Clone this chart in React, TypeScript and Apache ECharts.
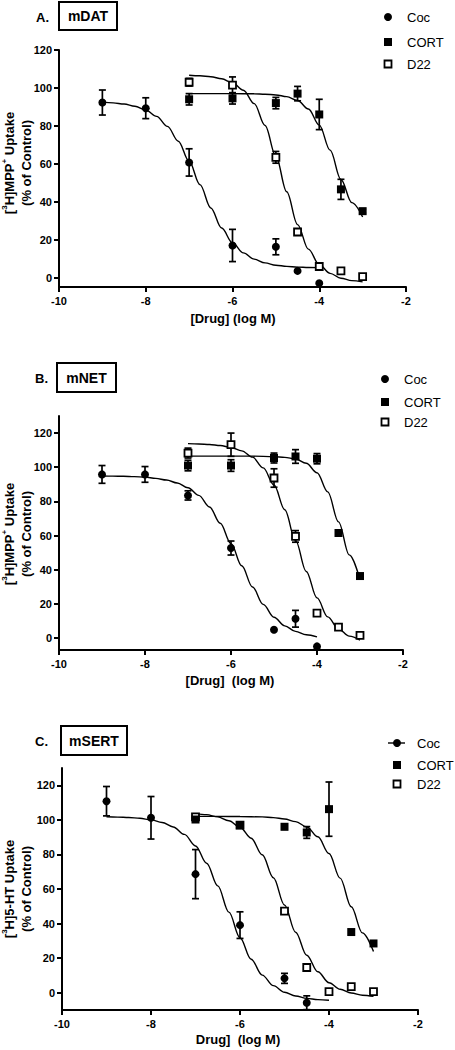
import React, { useEffect, useRef } from "react";
import * as echarts from "echarts";

const FONT = '"Liberation Sans", Arial, Helvetica, sans-serif';

// ---- axis ticks ----
const xTicks = [-10, -8, -6, -4, -2];
const yTicks = [0, 20, 40, 60, 80, 100, 120];

// ---- shared measurement x positions (log M) ----
const cocX9 = [-9, -8, -7, -6, -5, -4.5, -4];
const drugX7 = [-7, -6, -5, -4.5, -4, -3.5, -3];
const cocXC = [-9, -8, -7, -6, -5, -4.5];

// ---- fitted-curve sample x positions ----
const curveX9 = [-9, -8.75, -8.5, -8.25, -8, -7.75, -7.5, -7.25, -7, -6.75, -6.5, -6.25, -6, -5.75, -5.5, -5.25, -5, -4.75, -4.5, -4.25, -4];
const curveX7 = [-7, -6.75, -6.5, -6.25, -6, -5.75, -5.5, -5.25, -5, -4.75, -4.5, -4.25, -4, -3.75, -3.5, -3.25, -3];
const cortCurveXA = [-7, -6.5, -6, -5.5, -5.25, -5, -4.75, -4.5, -4.25, -4, -3.75, -3.5, -3.25, -3];
const cortCurveXB = [-7, -6.5, -6, -5.5, -5, -4.75, -4.5, -4.25, -4, -3.75, -3.5, -3.25, -3];

// ---- Panel A: mDAT ----
const aCocY = [92.3, 89.3, 60.7, 16.9, 16.2, 3.5, -3];
const aCocErr = [6.6, 5.5, 7.2, 8.5, 4.2, 0, 0];
const aCortY = [94, 94.5, 92, 97, 86, 46.5, 35];
const aCortErr = [3, 3, 3, 3.8, 8, 5.3, 1];
const aD22Y = [103, 101.5, 63.4, 24, 5.8, 3.5, 0.5];
const aD22Err = [2, 4.3, 3.1, 0, 1, 1, 0];
const aCocCurve = [92.5, 92.1, 91.5, 90.3, 88.3, 85.0, 79.7, 71.9, 61.3, 49, 36.7, 26.1, 18.3, 13.0, 9.7, 7.7, 6.5, 5.9, 5.5, 5.3, 5.2];
const aCortCurve = [97, 97, 97, 96.9, 96.7, 96.3, 95.4, 93.4, 88.9, 80.4, 67.2, 51.7, 39.5, 31.9];
const aD22Curve = [106.7, 106.4, 105.9, 104.8, 102.7, 98.8, 91.7, 80.2, 64.0, 45.2, 27.9, 15.0, 6.8, 2.2, -0.35, -1.66, -2.3];

// ---- Panel B: mNET ----
const bCocY = [95.8, 95.8, 83.5, 52.7, 4.9, 11.3, -4.9];
const bCocErr = [5.2, 4.6, 2.7, 4.1, 0, 4.9, 0];
const bCortY = [101, 101, 105.4, 106.3, 105, 61.5, 36.3];
const bCortErr = [3.1, 3.4, 2.9, 4, 3, 0, 0];
const bD22Y = [108.3, 113.2, 93.7, 59.5, 14.6, 6.4, 1.6];
const bD22Err = [2.9, 6.8, 5.4, 3.4, 0, 0, 0];
const bCocCurve = [94.9, 94.8, 94.7, 94.5, 94.2, 93.5, 92.5, 90.8, 88.0, 83.5, 76.7, 67.2, 55.3, 42.3, 29.9, 19.7, 12.2, 7.1, 3.9, 1.9, 0.7];
const bCortCurve = [106.5, 106.5, 106.5, 106.5, 106.2, 105.8, 104.8, 102.3, 96.8, 85.6, 68.0, 48.7, 34.3];
const bD22Curve = [113.8, 113.6, 113.3, 112.7, 111.6, 109.6, 105.9, 99.6, 89.6, 75.1, 57.2, 39.0, 23.5, 12.4, 5.3, 1.1, -1.2];

// ---- Panel C: mSERT ----
const cCocY = [110.8, 101.2, 68.6, 39.1, 8.3, -5.8];
const cCocErr = [8.5, 12.3, 14.2, 7.7, 2.9, 4];
const cCortY = [100.2, 96.9, 96, 92.7, 106.2, 35.1, 28.5];
const cCortErr = [1, 1, 1.5, 3.4, 15.7, 0, 0];
const cD22Y = [101.7, 96.9, 47.2, 14.6, 0.6, 3.5, 0.6];
const cD22Err = [1, 0, 0, 0, 0, 0, 0];
const cCocCurve = [101.8, 101.6, 101.4, 100.9, 100.0, 98.5, 95.9, 91.6, 84.9, 74.9, 61.8, 46.6, 31.8, 19.4, 10.2, 4.1, 0.3, -1.9, -3.3, -4.0, -4.4];
const cCortCurve = [102, 102, 101.9, 101.7, 101.3, 100.5, 99.0, 95.9, 90.2, 80.5, 66.3, 49.7, 34.6, 23.8];
const cD22Curve = [103.6, 103.0, 101.7, 99.5, 95.7, 89.4, 79.8, 66.5, 50.75, 35.0, 21.7, 12.1, 5.8, 2.0, -0.2, -1.5, -2.15];

const seriesNames = ["Coc", "CORT", "D22"];

type Panel = {
  grid: { left: number; top: number; width: number; height: number };
  yMin: number;
  yMax: number;
  points: { x: number[]; y: number[]; err: number[] }[];
  curves: { x: number[]; y: number[] }[];
};

const panels: Panel[] = [
  {
    grid: { left: 59, top: 50, width: 347, height: 237 },
    yMin: -5,
    yMax: 120,
    points: [
      { x: cocX9, y: aCocY, err: aCocErr },
      { x: drugX7, y: aCortY, err: aCortErr },
      { x: drugX7, y: aD22Y, err: aD22Err },
    ],
    curves: [
      { x: curveX9, y: aCocCurve },
      { x: cortCurveXA, y: aCortCurve },
      { x: curveX7, y: aD22Curve },
    ],
  },
  {
    grid: { left: 59, top: 416, width: 344, height: 234 },
    yMin: -7,
    yMax: 130,
    points: [
      { x: cocX9, y: bCocY, err: bCocErr },
      { x: drugX7, y: bCortY, err: bCortErr },
      { x: drugX7, y: bD22Y, err: bD22Err },
    ],
    curves: [
      { x: curveX9, y: bCocCurve },
      { x: cortCurveXB, y: bCortCurve },
      { x: curveX7, y: bD22Curve },
    ],
  },
  {
    grid: { left: 62, top: 768, width: 356, height: 242 },
    yMin: -10,
    yMax: 130,
    points: [
      { x: cocXC, y: cCocY, err: cCocErr },
      { x: drugX7, y: cCortY, err: cCortErr },
      { x: drugX7, y: cD22Y, err: cD22Err },
    ],
    curves: [
      { x: curveX9, y: cCocCurve },
      { x: cortCurveXA, y: cCortCurve },
      { x: curveX7, y: cD22Curve },
    ],
  },
];

const markerStyles = [
  { symbol: "circle", symbolSize: 8, itemStyle: { color: "#000", opacity: 1 } },
  { symbol: "rect", symbolSize: 8, itemStyle: { color: "#000", opacity: 1 } },
  { symbol: "rect", symbolSize: 7, itemStyle: { color: "#fff", borderColor: "#000", borderWidth: 1.8, opacity: 1 } },
];

const errorRender = (params: any, api: any) => {
  const x = api.value(0);
  const y = api.value(1);
  const e = api.value(2);
  if (!e) return null;
  const top = api.coord([x, y + e]);
  const bot = api.coord([x, y - e]);
  const w = 3.5;
  const st = { stroke: "#000", lineWidth: 1.7 };
  return {
    type: "group",
    children: [
      { type: "line", shape: { x1: top[0], y1: top[1], x2: bot[0], y2: bot[1] }, style: st },
      { type: "line", shape: { x1: top[0] - w, y1: top[1], x2: top[0] + w, y2: top[1] }, style: st },
      { type: "line", shape: { x1: bot[0] - w, y1: bot[1], x2: bot[0] + w, y2: bot[1] }, style: st },
    ],
  };
};

const boldLabel = { fontFamily: FONT, fontWeight: "bold" as const, fontSize: 11, color: "#000" };
const axisLineStyle = { color: "#000", width: 2 };

function buildOption() {
  const grids: any[] = [];
  const xAxes: any[] = [];
  const yAxes: any[] = [];
  const series: any[] = [];
  panels.forEach((p, i) => {
    grids.push({ ...p.grid, containLabel: false });
    xAxes.push({
      type: "value",
      gridIndex: i,
      min: -10,
      max: -2,
      interval: 2,
      axisLine: { show: true, onZero: false, lineStyle: axisLineStyle },
      axisTick: { show: true, length: 5, lineStyle: axisLineStyle, customValues: xTicks },
      axisLabel: { ...boldLabel, margin: 8, customValues: xTicks },
      splitLine: { show: false },
    });
    yAxes.push({
      type: "value",
      gridIndex: i,
      min: p.yMin,
      max: p.yMax,
      axisLine: { show: true, onZero: false, lineStyle: axisLineStyle },
      axisTick: { show: true, length: 5, lineStyle: axisLineStyle, customValues: yTicks },
      axisLabel: { ...boldLabel, margin: 7, customValues: yTicks },
      splitLine: { show: false },
    });
    p.curves.forEach((c, k) => {
      series.push({
        type: "line",
        name: seriesNames[k] + " fit",
        xAxisIndex: i,
        yAxisIndex: i,
        data: c.x.map((x, j) => [x, c.y[j]]),
        showSymbol: false,
        symbol: "none",
        smooth: 0.35,
        smoothMonotone: "x",
        lineStyle: { color: "#000", width: 1.4 },
        z: 3,
        silent: true,
      });
    });
    p.points.forEach((pt, k) => {
      series.push({
        type: "custom",
        name: seriesNames[k] + " SEM",
        xAxisIndex: i,
        yAxisIndex: i,
        renderItem: errorRender,
        encode: { x: 0, y: 1 },
        data: pt.x.map((x, j) => [x, pt.y[j], pt.err[j]]),
        z: 2,
        silent: true,
      });
    });
    p.points.forEach((pt, k) => {
      series.push({
        type: "scatter",
        name: seriesNames[k],
        xAxisIndex: i,
        yAxisIndex: i,
        data: pt.x.map((x, j) => [x, pt.y[j]]),
        ...markerStyles[k],
        z: 4 + (k === 1 ? 1 : 0),
        silent: true,
      });
    });
  });

  const sup = { fontSize: 8, fontWeight: "bold", fontFamily: FONT, fill: "#000", lineHeight: 9, verticalAlign: "top" };
  const yTitle = (text: string, x: number, y: number) => ({
    type: "text",
    x,
    y,
    rotation: Math.PI / 2,
    style: {
      text,
      fontFamily: FONT,
      fontWeight: "bold",
      fontSize: 13,
      lineHeight: 17,
      fill: "#000",
      align: "center",
      verticalAlign: "middle",
      rich: {
        n: { fontSize: 13, fontWeight: "bold", fontFamily: FONT, fill: "#000", lineHeight: 17 },
        s: sup,
      },
    },
  });
  const xTitle = (text: string, x: number, y: number) => ({
    type: "text",
    x,
    y,
    style: { text, fontFamily: FONT, fontWeight: "bold", fontSize: 13, fill: "#000", align: "center", verticalAlign: "middle" },
  });
  const panelTitle = (letter: string, lx: number, box: number[], name: string) => [
    {
      type: "text",
      x: lx,
      y: box[1] + box[3] / 2 + 1,
      style: { text: letter, fontFamily: FONT, fontWeight: "bold", fontSize: 13, fill: "#000", align: "left", verticalAlign: "middle" },
    },
    {
      type: "rect",
      shape: { x: box[0], y: box[1], width: box[2], height: box[3] },
      style: { fill: "#fff", stroke: "#000", lineWidth: 2 },
    },
    {
      type: "text",
      x: box[0] + box[2] / 2,
      y: box[1] + box[3] / 2,
      style: { text: name, fontFamily: FONT, fontWeight: "bold", fontSize: 14, fill: "#000", align: "center", verticalAlign: "middle" },
    },
  ];
  const legendText = (text: string, x: number, y: number) => ({
    type: "text",
    x,
    y,
    style: { text, fontFamily: FONT, fontSize: 13, fill: "#000", align: "left", verticalAlign: "middle" },
  });
  const legend = (mx: number, tx: number, ys: number[], withLine: boolean) => {
    const els: any[] = [];
    if (withLine) {
      els.push({ type: "line", shape: { x1: mx - 9, y1: ys[0], x2: mx + 8, y2: ys[0] }, style: { stroke: "#000", lineWidth: 1.4 } });
    }
    els.push({ type: "circle", shape: { cx: mx, cy: ys[0], r: 4 }, style: { fill: "#000" } });
    els.push({ type: "rect", shape: { x: mx - 4, y: ys[1] - 4, width: 8, height: 8 }, style: { fill: "#000" } });
    els.push({ type: "rect", shape: { x: mx - 3.5, y: ys[2] - 3.5, width: 7, height: 7 }, style: { fill: "#fff", stroke: "#000", lineWidth: 1.8 } });
    seriesNames.forEach((n, k) => els.push(legendText(n, tx, ys[k])));
    return els;
  };

  const graphic = [
    ...panelTitle("A.", 36, [59, 2, 58, 28], "mDAT"),
    ...panelTitle("B.", 35, [57, 363, 59, 29], "mNET"),
    ...panelTitle("C.", 35, [61, 726, 66, 29], "mSERT"),
    ...legend(388, 407, [17, 42, 64], false),
    ...legend(385, 404, [379, 402, 422], false),
    ...legend(397, 417, [743, 765, 784], true),
    yTitle("{n|[}{s|3}{n|H]MPP}{s|+}{n| Uptake}\n{n|(% of Control)}", 17.5, 163),
    yTitle("{n|[}{s|3}{n|H]MPP}{s|+}{n| Uptake}\n{n|(% of Control)}", 17.5, 534),
    yTitle("{n|[}{s|3}{n|H]5-HT Uptake}\n{n|(% of Control)}", 17.5, 889),
    xTitle("[Drug] (log M)", 233, 318),
    xTitle("[Drug]  (log M)", 230, 680),
    xTitle("Drug]  (log M)", 238, 1039),
  ];

  return {
    animation: false,
    backgroundColor: "#fff",
    grid: grids,
    xAxis: xAxes,
    yAxis: yAxes,
    series,
    graphic,
  };
}

export default function App() {
  const ref = useRef<HTMLDivElement>(null);
  useEffect(() => {
    if (!ref.current) return;
    const chart = echarts.init(ref.current, undefined, { renderer: "svg" });
    chart.setOption(buildOption() as any);
    return () => chart.dispose();
  }, []);
  return (
    <div
      ref={ref}
      style={{ position: "absolute", left: 0, top: 0, width: 455, height: 1050, background: "#fff" }}
    />
  );
}
